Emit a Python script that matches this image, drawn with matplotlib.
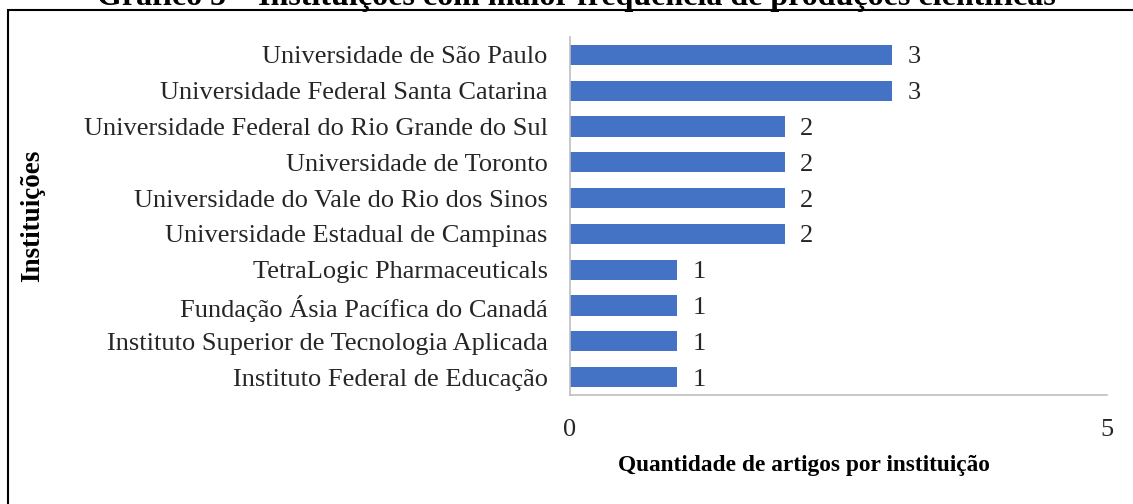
import matplotlib
matplotlib.use("Agg")
import matplotlib.pyplot as plt
from matplotlib.patches import Rectangle

institutions = [
    "Universidade de São Paulo",
    "Universidade Federal Santa Catarina",
    "Universidade Federal do Rio Grande do Sul",
    "Universidade de Toronto",
    "Universidade do Vale do Rio dos Sinos",
    "Universidade Estadual de Campinas",
    "TetraLogic Pharmaceuticals",
    "Fundação Ásia Pacífica do Canadá",
    "Instituto Superior de Tecnologia Aplicada",
    "Instituto Federal de Educação",
]
counts = [3, 3, 2, 2, 2, 2, 1, 1, 1, 1]
x_ticks = [0, 5]
title = "Gráfico 5 – Instituições com maior frequência de produções científicas"
xlabel = "Quantidade de artigos por instituição"
ylabel = "Instituições"

W, H = 1133, 504
fig = plt.figure(figsize=(W / 100, H / 100), dpi=100)
serif = ["Liberation Serif", "DejaVu Serif"]
fs = 19

ax = fig.add_axes([570 / W, 1 - 395 / H, (1107 - 570) / W, (395 - 37) / H])
ypos = list(range(len(institutions)))
ax.barh(ypos, counts, height=0.56, color="#4472C4")
ax.set_ylim(len(institutions) - 0.5, -0.5)
ax.set_xlim(0, 5)
ax.set_yticks(ypos)
ax.set_yticklabels(institutions, fontsize=fs, family=serif, color="#262626",
                   va="center_baseline")
ax.set_xticks(x_ticks)
ax.set_xticklabels([str(t) for t in x_ticks], fontsize=fs, family=serif, color="#262626")
ax.tick_params(axis="both", length=0)
ax.tick_params(axis="y", pad=16)
ax.tick_params(axis="x", pad=17)
for s in ["top", "right"]:
    ax.spines[s].set_visible(False)
for s in ["left", "bottom"]:
    ax.spines[s].set_color("#bfbfbf")
    ax.spines[s].set_linewidth(1.2)

for y, v in zip(ypos, counts):
    ax.text(v + 0.14, y, str(v), va="center_baseline", ha="left", fontsize=fs,
            family=serif, color="#262626")

fig.text(804 / W, 1 - 466 / H, xlabel, ha="center", va="center",
         fontsize=16.8, fontweight="bold", family=serif)
fig.text(33 / W, 1 - 216 / H, ylabel, ha="center", va="center", rotation=90,
         fontsize=19.5, fontweight="bold", family=serif)

fig.text(576 / W, 1 - 5 / H, title, ha="center", va="baseline",
         fontsize=23, fontweight="bold", family=serif)

fig.add_artist(Rectangle((8 / W, -0.2), 1.5, 1.2 - 10 / H, transform=fig.transFigure,
                         fill=False, edgecolor="black", linewidth=1.5))

fig.savefig("out.png", dpi=100)
